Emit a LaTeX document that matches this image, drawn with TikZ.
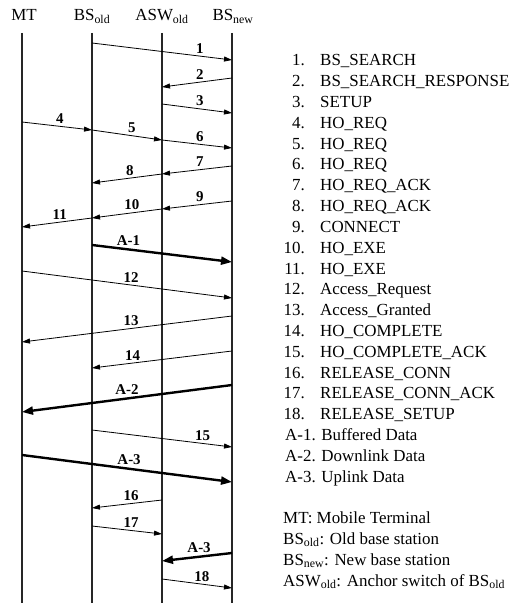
\documentclass[tikz,border=0pt]{standalone}
\usepackage{fontspec}
\setmainfont{Liberation Serif}
\usetikzlibrary{arrows.meta}

\begin{document}
\begin{tikzpicture}[x=1bp, y=-1bp,
    every node/.style={font=\fontsize{17}{20}\selectfont},
    lifeline/.style={line width=1.3bp, black!85},
    msg/.style={-{Triangle[length=8bp,width=5bp]}, line width=0.8bp},
    data/.style={-{Triangle[length=11bp,width=8bp]}, line width=2.4bp},
    num/.style={font=\fontsize{15}{17}\selectfont\bfseries, inner sep=1bp, above=1.5bp},
    idx/.style={anchor=base east, inner sep=0pt},
    item/.style={anchor=base west, inner sep=0pt},
]
\useasboundingbox (0,0) rectangle (513,603);

% Entity heads
\node[anchor=base] (hMT)  at (24,21)  {MT};
\node[anchor=base] (hBSo) at (92,21)  {BS\textsubscript{old}};
\node[anchor=base] (hASW) at (162,21) {ASW\textsubscript{old}};
\node[anchor=base] (hBSn) at (233,21) {BS\textsubscript{new}};

% Lifelines
\coordinate (mt)  at (22,33);
\coordinate (bso) at (92,33);
\coordinate (asw) at (162,33);
\coordinate (bsn) at (232,33);
\foreach \c in {mt,bso,asw,bsn}
    \draw[lifeline] (\c) -- (\c |- 0,603);

% Signalling messages
\draw[msg] (bso |- 0,43)  -- node[num,pos=.77] {1}  (bsn |- 0,60);
\draw[msg] (bsn |- 0,78)  -- node[num,pos=.46] {2}  (asw |- 0,87);
\draw[msg] (asw |- 0,104) -- node[num,pos=.54] {3}  (bsn |- 0,113);
\draw[msg] (mt  |- 0,122) -- node[num,pos=.54] {4}  (bso |- 0,130);
\draw[msg] (bso |- 0,130) -- node[num,pos=.57] {5}  (asw |- 0,140);
\draw[msg] (asw |- 0,140) -- node[num,pos=.54] {6}  (bsn |- 0,148);
\draw[msg] (bsn |- 0,166) -- node[num,pos=.46] {7}  (asw |- 0,174);
\draw[msg] (asw |- 0,174) -- node[num,pos=.46] {8}  (bso |- 0,183);
\draw[msg] (bsn |- 0,201) -- node[num,pos=.46] {9}  (asw |- 0,209);
\draw[msg] (asw |- 0,209) -- node[num,pos=.43] {10} (bso |- 0,218);
\draw[msg] (bso |- 0,218) -- node[num,pos=.46] {11} (mt  |- 0,227);
\draw[data] (bso |- 0,245) -- node[num,pos=.26] {A-1} (bsn |- 0,262);
\draw[msg] (mt  |- 0,271) -- node[num,pos=.52] {12} (bsn |- 0,298);
\draw[msg] (bsn |- 0,316) -- node[num,pos=.48] {13} (mt  |- 0,342);
\draw[msg] (bsn |- 0,351) -- node[num,pos=.71] {14} (bso |- 0,368);
\draw[data] (bsn |- 0,385) -- node[num,pos=.50] {A-2} (mt |- 0,412);
\draw[msg] (bso |- 0,430) -- node[num,pos=.79] {15} (bsn |- 0,447);
\draw[data] (mt |- 0,455) -- node[num,pos=.51] {A-3} (bsn |- 0,482);
\draw[msg] (asw |- 0,500) -- node[num,pos=.44] {16} (bso |- 0,508);
\draw[msg] (bso |- 0,526) -- node[num,pos=.56] {17} (asw |- 0,534);
\draw[data] (bsn |- 0,553) -- node[num,pos=.47] {A-3} (asw |- 0,561);
\draw[msg] (asw |- 0,579) -- node[num,pos=.57] {18} (bsn |- 0,588);

% Message legend
\foreach \t [count=\i] in {BS\_SEARCH, BS\_SEARCH\_RESPONSE, SETUP, HO\_REQ, HO\_REQ,
        HO\_REQ, HO\_REQ\_ACK, HO\_REQ\_ACK, CONNECT, HO\_EXE, HO\_EXE, Access\_Request,
        Access\_Granted, HO\_COMPLETE, HO\_COMPLETE\_ACK, RELEASE\_CONN,
        RELEASE\_CONN\_ACK, RELEASE\_SETUP} {
    \node[idx]  (n\i) at (305,{66+20.8*(\i-1)}) {\i.};
    \node[item] (t\i) at (320,{66+20.8*(\i-1)}) {\t};
}
\node[item] (a1) at (285,440) {A-1. Buffered Data};
\node[item] (a2) at (285,461) {A-2. Downlink Data};
\node[item] (a3) at (285,482) {A-3. Uplink Data};

% Entity legend
\node[item] (kMT)  at (283,523) {MT: Mobile Terminal};
\node[item] (kBSo) at (283,544) {BS\textsubscript{old}: Old base station};
\node[item] (kBSn) at (283,565) {BS\textsubscript{new}: New base station};
\node[item] (kASW) at (283,586) {ASW\textsubscript{old}: Anchor switch of BS\textsubscript{old}};

\end{tikzpicture}
\end{document}
